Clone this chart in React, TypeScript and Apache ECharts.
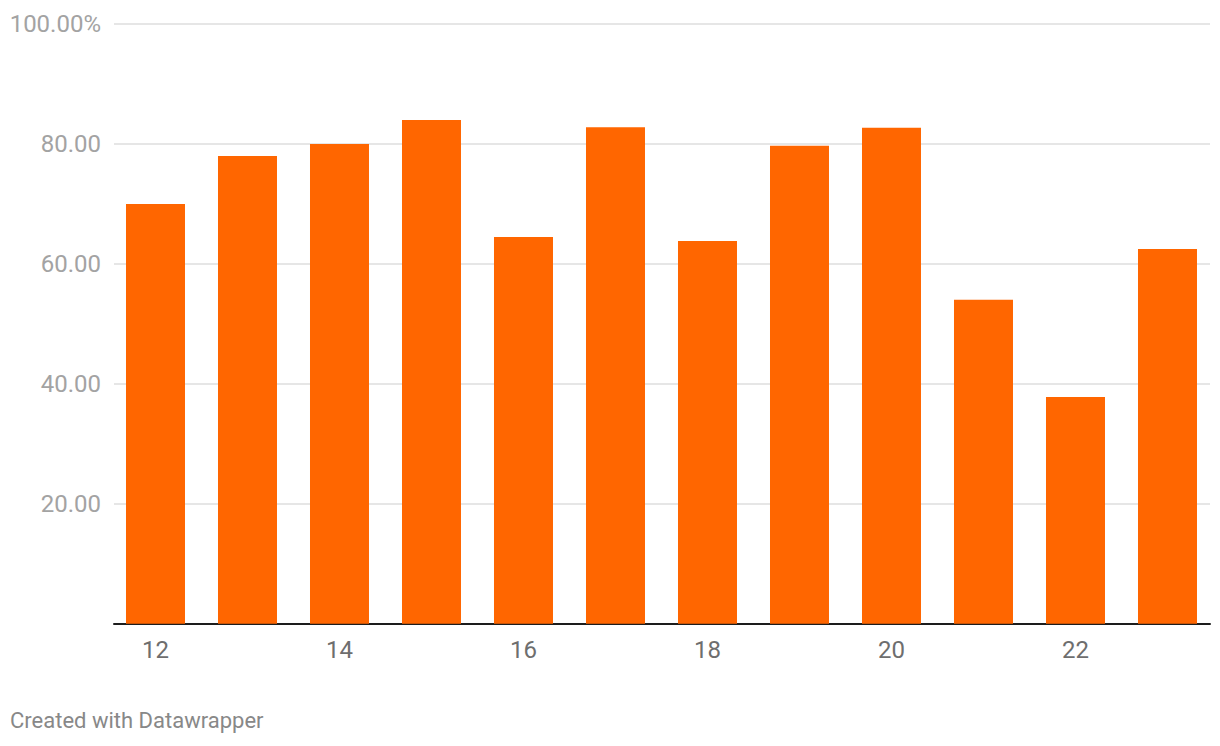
import React, { useEffect, useRef } from "react";
import * as echarts from "echarts";

const categories = [12, 13, 14, 15, 16, 17, 18, 19, 20, 21, 22, 23];
const values = [70, 78, 80, 84, 64.5, 82.8, 63.8, 79.7, 82.7, 54, 37.8, 62.5];
const xTickLabels = [12, 14, 16, 18, 20, 22];
const yTicks = [0, 20, 40, 60, 80, 100];
const footerText = "Created with Datawrapper";

export default function App() {
  const ref = useRef<HTMLDivElement>(null);
  useEffect(() => {
    if (!ref.current) return;
    const chart = echarts.init(ref.current, null, { renderer: "svg" });
    chart.setOption({
      animation: false,
      backgroundColor: "#ffffff",
      textStyle: { fontFamily: "Roboto" },
      grid: { left: 114, right: 10, top: 24, bottom: 122.3, containLabel: false },
      xAxis: {
        type: "value",
        min: 11.549,
        max: 23.462,
        splitLine: { show: false },
        axisTick: { show: false },
        axisLine: { show: true, onZero: true, lineStyle: { color: "#1d1d1d", width: 2 } },
        axisLabel: {
          customValues: xTickLabels,
          color: "#6e6e6e",
          fontSize: 24,
          fontFamily: "Roboto",
          margin: 14,
          formatter: (v: number) => String(v),
        },
      },
      yAxis: {
        type: "value",
        min: yTicks[0],
        max: yTicks[yTicks.length - 1],
        interval: 20,
        axisLine: { show: false },
        axisTick: { show: false },
        splitLine: { show: true, lineStyle: { color: "#e6e6e6", width: 2 } },
        axisLabel: {
          color: "#a3a3a3",
          fontSize: 24,
          fontFamily: "Roboto",
          margin: 13,
          formatter: (v: number) => (v === 0 ? "" : v === 100 ? "100.00%" : v.toFixed(2)),
        },
      },
      series: [
        {
          type: "bar",
          barWidth: 59,
          itemStyle: { color: "#ff6600" },
          data: categories.map((c, i) => [c, values[i]]),
        },
      ],
      graphic: [
        {
          type: "text",
          left: 10,
          top: 709,
          style: {
            text: footerText,
            fill: "#888888",
            fontSize: 22,
            fontFamily: "Roboto",
          },
        },
      ],
    });
    return () => chart.dispose();
  }, []);
  return (
    <div
      ref={ref}
      style={{ position: "absolute", left: 0, top: 0, width: 1220, height: 746 }}
    />
  );
}
